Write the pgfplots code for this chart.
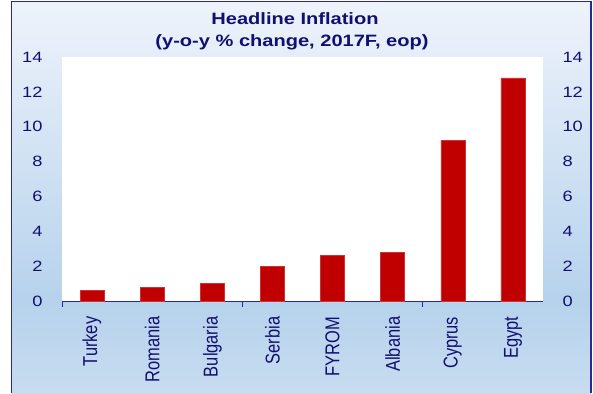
\documentclass[border=0pt]{standalone}
\usepackage{pgfplots}
\pgfplotsset{compat=1.18}
\usepackage{fontspec}
\setmainfont{Liberation Sans}[FakeStretch=1.22]
\newfontfamily\labfont{Liberation Sans}
\definecolor{navy}{RGB}{16,16,112}
\definecolor{barred}{RGB}{192,0,0}
\definecolor{bgtop}{RGB}{238,243,251}
\definecolor{bgmid}{RGB}{182,210,236}
\definecolor{bgbot}{RGB}{200,220,240}
\definecolor{frame}{RGB}{40,40,150}
\begin{document}
\begin{tikzpicture}[x=1bp,y=1bp]
\useasboundingbox (0,0) rectangle (593,393);
\shade[top color=bgtop, bottom color=bgmid] (11.5,92) rectangle (591,391.5);
\shade[top color=bgmid, bottom color=bgbot] (11.5,0) rectangle (591,92);
\draw[frame, line width=1.2bp] (11.5,0) -- (11.5,391.5) -- (591,391.5) -- (591,0);
\node[anchor=base, text=navy, font=\bfseries\fontsize{16.5}{16.5}\selectfont] at (295,369) {Headline Inflation};
\node[anchor=base, text=navy, font=\bfseries\fontsize{16.5}{16.5}\selectfont] at (292,347) {(y-o-y \% change, 2017F, eop)};
\begin{axis}[
  at={(62bp,92bp)}, anchor=south west,
  scale only axis, width=481bp, height=244bp,
  xmin=-0.5, xmax=7.5, ymin=0, ymax=14,
  axis background/.style={fill=white},
  axis x line*=bottom, axis y line*=left,
  x axis line style={draw=frame, line width=0.8bp},
  y axis line style={draw=none},
  xtick={0,...,7},
  xticklabels={Turkey,Romania,Bulgaria,Serbia,FYROM,Albania,Cyprus,Egypt},
  xtick style={draw=none},
  ytick={0,2,...,14},
  ytick style={draw=none},
  extra x ticks={-0.5,2.5,5.5},
  extra x tick labels={},
  extra x tick style={xtick style={draw=frame, line width=0.8bp}, major tick length=6bp, tick align=outside},
  /pgf/number format/assume math mode=true,
  xticklabel style={rotate=90, anchor=east, xshift=-8bp, yscale=1.22, text=navy, font=\labfont\fontsize{16.5}{16.5}\selectfont},
  yticklabel style={xshift=-16bp, text=navy, font=\fontsize{15}{15}\selectfont},
  ybar, bar width=24bp,
]
\addplot[fill=barred, draw=barred!80!white, line width=0.4bp] coordinates {
  (0,0.6) (1,0.8) (2,1.0) (3,2.0) (4,2.6) (5,2.8) (6,9.2) (7,12.8)
};
\end{axis}
\begin{axis}[
  at={(62bp,92bp)}, anchor=south west,
  scale only axis, width=481bp, height=244bp,
  xmin=-0.5, xmax=7.5, ymin=0, ymax=14,
  hide x axis,
  axis y line*=right,
  y axis line style={draw=none},
  ytick={0,2,...,14},
  ytick style={draw=none},
  /pgf/number format/assume math mode=true,
  yticklabel style={xshift=16bp, text=navy, font=\fontsize{15}{15}\selectfont},
]
\addplot[draw=none] coordinates {(0,0) (7,14)};
\end{axis}
\end{tikzpicture}
\end{document}
